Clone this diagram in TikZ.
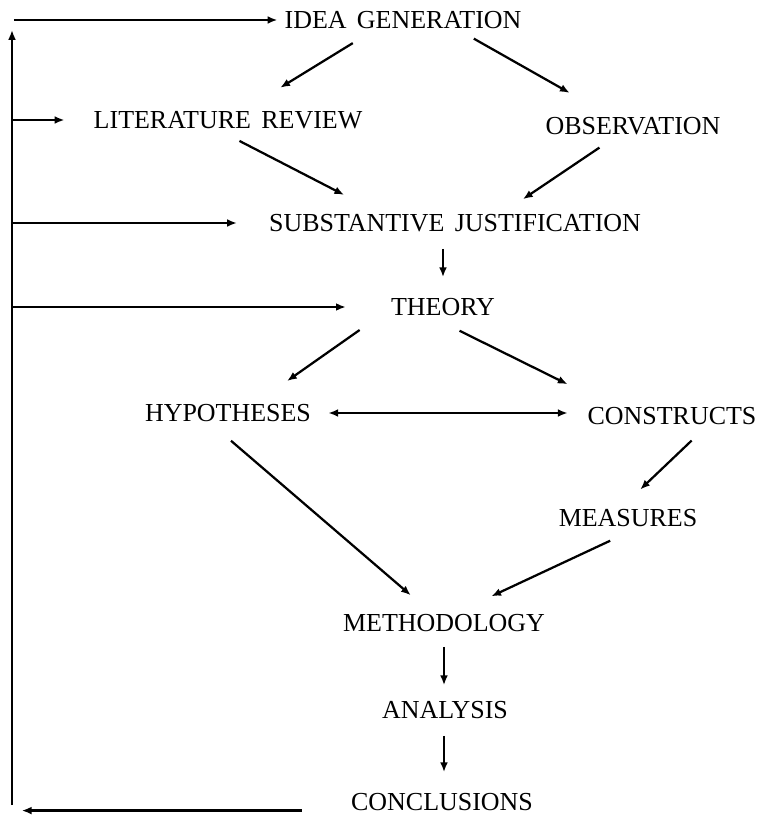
\documentclass[tikz,border=0pt]{standalone}
\usepackage{fontspec}
\setmainfont[WordSpace=1.6]{Liberation Serif}
\usetikzlibrary{arrows.meta}

\begin{document}
\begin{tikzpicture}[
		x=0.018cm, y=-0.018cm,
		stage/.style={font=\fontsize{13.3}{15}\selectfont, inner sep=2pt, text height=8.8pt, text depth=0pt},
		flow/.style={-{Latex[length=5pt, width=4pt]}, line width=1.15pt},
		both/.style={{Latex[length=5pt, width=4pt]}-{Latex[length=5pt, width=4pt]}, line width=1.15pt}
		]
		\useasboundingbox (0,0) rectangle (766,817);
		
		% Stages of the research process
		\node[stage] (idea) at (403,20) {IDEA GENERATION};
		\node[stage] (lit) at (228,120) {LITERATURE REVIEW};
		\node[stage] (obs) at (633,126) {OBSERVATION};
		\node[stage] (subst) at (455,223) {SUBSTANTIVE JUSTIFICATION};
		\node[stage] (theory) at (443,307) {THEORY};
		\node[stage] (hypo) at (228,413) {HYPOTHESES};
		\node[stage] (cons) at (672,416) {CONSTRUCTS};
		\node[stage] (meas) at (628,518) {MEASURES};
		\node[stage] (meth) at (444,623) {METHODOLOGY};
		\node[stage] (anal) at (445,710) {ANALYSIS};
		\node[stage] (concl) at (442,802) {CONCLUSIONS};
		
		% Forward arrows
		\draw[flow, shorten <=10pt, shorten >=19pt] (idea.-159) -- (lit.32);
		\draw[flow, shorten <=6pt, shorten >=21pt] (idea.-12) -- (obs.155);
		\draw[flow, shorten <=9pt, shorten >=17pt] (lit.-108) -- (subst.171);
		\draw[flow, shorten <=8pt, shorten >=10pt] (obs.-148) -- (subst.14);
		\draw[flow, shorten <=6.7pt, shorten >=8.7pt] (theory.north |- subst.south) -- (theory.north);
		\draw[flow, shorten <=17pt, shorten >=17pt] (theory.-176) -- (hypo.22);
		\draw[flow, shorten <=12.6pt, shorten >=21.8pt] (theory.-113) -- (cons.169);
		\draw[both, shorten <=6.7pt, shorten >=8pt] (hypo.east) -- (hypo.east -| cons.west);
		\draw[flow, shorten <=11.7pt, shorten >=11.7pt] (hypo.-138) -- (meth.141);
		\draw[flow, shorten <=8.7pt, shorten >=11.6pt] (cons.-22) -- (meas.108);
		\draw[flow, shorten <=11.9pt, shorten >=16.7pt] (meas.-76) -- (meth.36);
		\draw[flow, shorten <=5.6pt, shorten >=6.1pt] (meth.south) -- (meth.south |- anal.north);
		\draw[flow, shorten <=6.7pt, shorten >=8.7pt] (meth.south |- anal.south) -- (meth.south |- concl.north);
		
		% Feedback loop
		\coordinate (loopbot) at (12,805);
		\coordinate (looptop) at (12,30);
		\draw[flow, shorten <=23pt, shorten >=5pt] (concl.base west) -- (concl.base west -| loopbot);
		\draw[flow] (loopbot) -- (looptop);
		\draw[flow, shorten <=1pt, shorten >=1.5pt] (idea.west -| loopbot) -- (idea.west);
		\draw[flow, shorten >=12.8pt] (lit.west -| loopbot) -- (lit.west);
		\draw[flow, shorten >=14.3pt] (subst.west -| loopbot) -- (subst.west);
		\draw[flow, shorten >=21pt] (theory.west -| loopbot) -- (theory.west);
		
	\end{tikzpicture}
\end{document}
